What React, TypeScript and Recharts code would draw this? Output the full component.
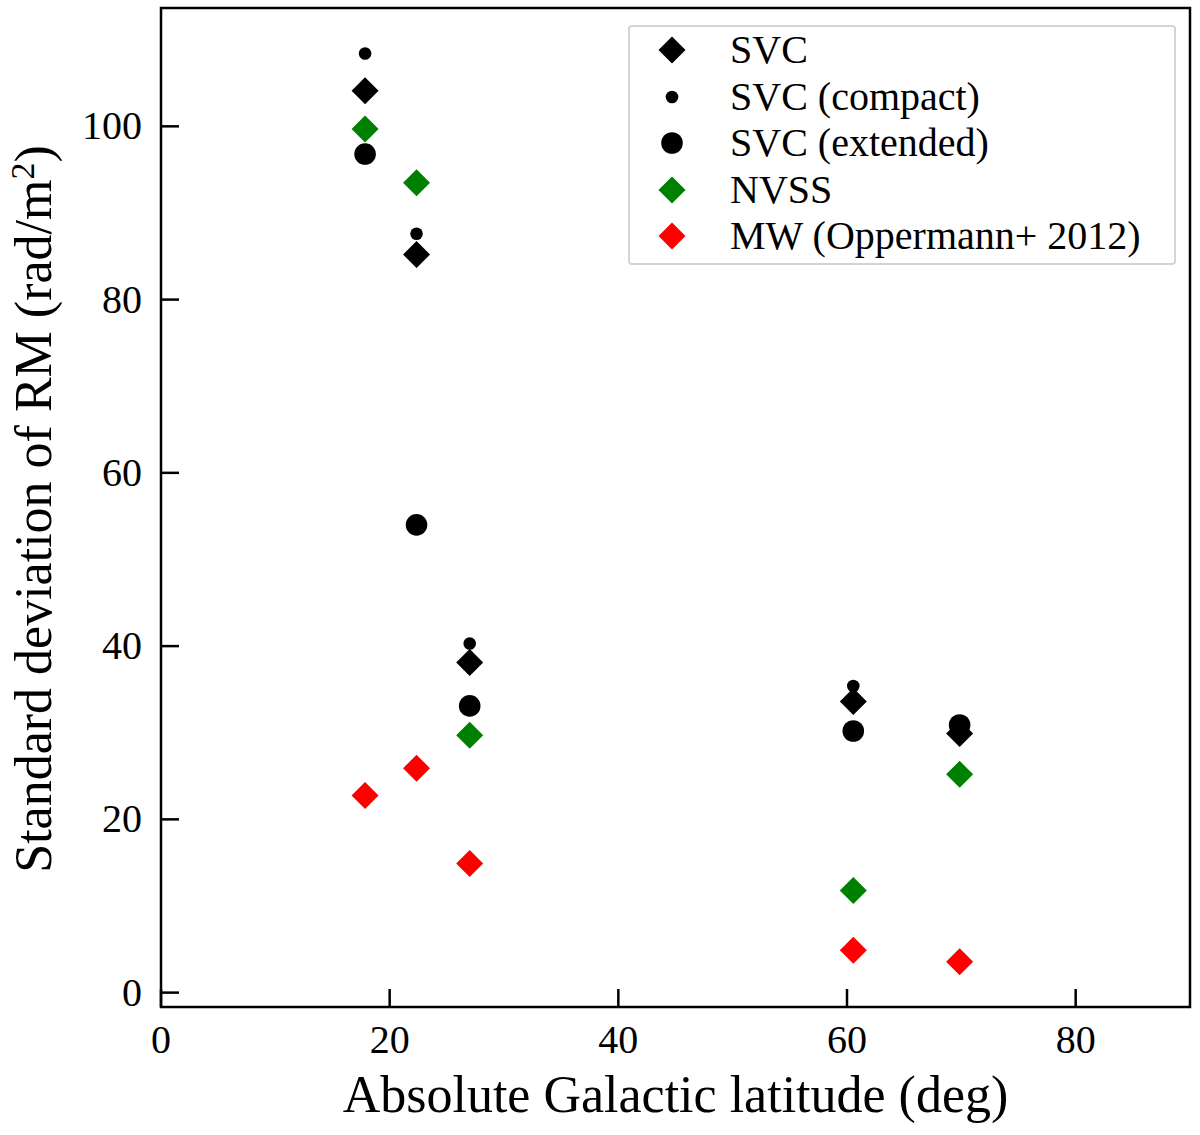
import React from "react";
import { ScatterChart, Scatter, XAxis, YAxis, ReferenceArea, Legend } from "recharts";

// Galactic latitude of each field (deg)
const latitude = [17.85, 22.35, 27.0, 60.55, 69.85];

// standard deviation of RM (rad/m^2)
const svc = [104.1, 85.2, 38.1, 33.6, 29.9];
const svcCompact = [108.4, 87.6, 40.3, 35.4, 31.2];
const svcExtended = [96.8, 54.0, 33.1, 30.2, 30.9];
const nvss = [99.7, 93.5, 29.7, 11.8, 25.2];
const mwOppermann = [22.75, 25.9, 14.9, 4.9, 3.55];

const xTicks = [0, 20, 40, 60, 80];
const yTicks = [0, 20, 40, 60, 80, 100];

const FONT = '"Liberation Serif", "DejaVu Serif", serif';

const toPoints = (values: number[]) => latitude.map((x, i) => ({ x, y: values[i] }));

const diamond = (fill: string) => (p: any) => (
  <path
    d={`M${p.cx},${p.cy - 13.5}L${p.cx + 13.5},${p.cy}L${p.cx},${p.cy + 13.5}L${p.cx - 13.5},${p.cy}Z`}
    fill={fill}
  />
);

const dot = (fill: string, r: number) => (p: any) => <circle cx={p.cx} cy={p.cy} r={r} fill={fill} />;

const series = [
  { name: "SVC", values: svc, shape: diamond("#000000") },
  { name: "SVC (compact)", values: svcCompact, shape: dot("#000000", 6.3) },
  { name: "SVC (extended)", values: svcExtended, shape: dot("#000000", 10.8) },
  { name: "NVSS", values: nvss, shape: diamond("#008000") },
  { name: "MW (Oppermann+ 2012)", values: mwOppermann, shape: diamond("#ff0000") },
];

const XTick = (props: any) => {
  const { x, y, payload } = props;
  return (
    <g>
      <line x1={x} y1={y} x2={x} y2={y - 18} stroke="#000" strokeWidth={2.5} />
      <text x={x} y={y + 46} textAnchor="middle" fontFamily={FONT} fontSize={40} fill="#000">
        {payload.value}
      </text>
    </g>
  );
};

const YTick = (props: any) => {
  const { x, y, payload } = props;
  return (
    <g>
      <line x1={x} y1={y} x2={x + 18} y2={y} stroke="#000" strokeWidth={2.5} />
      <text x={x - 19} y={y + 13} textAnchor="end" fontFamily={FONT} fontSize={40} fill="#000">
        {payload.value}
      </text>
    </g>
  );
};

const XLabel = (props: any) => {
  const { viewBox } = props;
  return (
    <text x={viewBox.x + viewBox.width / 2} y={1112} textAnchor="middle" fontFamily={FONT} fontSize={52} fill="#000">
      Absolute Galactic latitude (deg)
    </text>
  );
};

const YLabel = () => (
  <text
    x={51}
    y={509}
    transform="rotate(-90, 51, 509)"
    textAnchor="middle"
    fontFamily={FONT}
    fontSize={52}
    fill="#000"
  >
    <tspan>Standard deviation of RM (rad/m</tspan>
    <tspan dy={-17} fontSize={34}>2</tspan>
    <tspan dy={17}>)</tspan>
  </text>
);

const LegendBox = () => (
  <div
    style={{
      border: "2px solid #d4d4d4",
      borderRadius: 4,
      background: "#fff",
      padding: "0 0 3px 0",
      fontFamily: FONT,
      fontSize: 40,
      color: "#000",
    }}
  >
    {series.map((s) => (
      <div key={s.name} style={{ display: "flex", alignItems: "center", height: 46.5 }}>
        <svg width={84} height={40} style={{ flex: "none" }}>
          {s.shape({ cx: 42, cy: 20 })}
        </svg>
        <span style={{ marginLeft: 16, whiteSpace: "nowrap", lineHeight: 1 }}>{s.name}</span>
      </div>
    ))}
  </div>
);

export default function App() {
  return (
    <div style={{ position: "absolute", left: 0, top: 0, width: 1200, height: 1135, background: "#fff" }}>
      <ScatterChart width={1200} height={1135} margin={{ top: 8, right: 10, bottom: 0, left: 0 }}>
        <XAxis
          type="number"
          dataKey="x"
          domain={[0, 90]}
          ticks={xTicks}
          allowDataOverflow
          height={128}
          axisLine={false}
          tickLine={false}
          tickSize={0}
          tickMargin={0}
          tick={<XTick />}
          label={<XLabel />}
        />
        <YAxis
          type="number"
          dataKey="y"
          domain={[-1.66, 113.66]}
          ticks={yTicks}
          allowDataOverflow
          width={161}
          axisLine={false}
          tickLine={false}
          tickSize={0}
          tickMargin={0}
          tick={<YTick />}
          label={<YLabel />}
        />
        <ReferenceArea x1={0} x2={90} y1={-1.66} y2={113.66} fill="none" stroke="#000" strokeWidth={2.5} />
        {series.map((s) => (
          <Scatter
            key={s.name}
            name={s.name}
            data={toPoints(s.values)}
            shape={s.shape}
            isAnimationActive={false}
          />
        ))}
        <Legend
          layout="vertical"
          align="center"
          verticalAlign="middle"
          wrapperStyle={{ left: 628, top: 25, width: 548 }}
          content={<LegendBox />}
        />
      </ScatterChart>
    </div>
  );
}
